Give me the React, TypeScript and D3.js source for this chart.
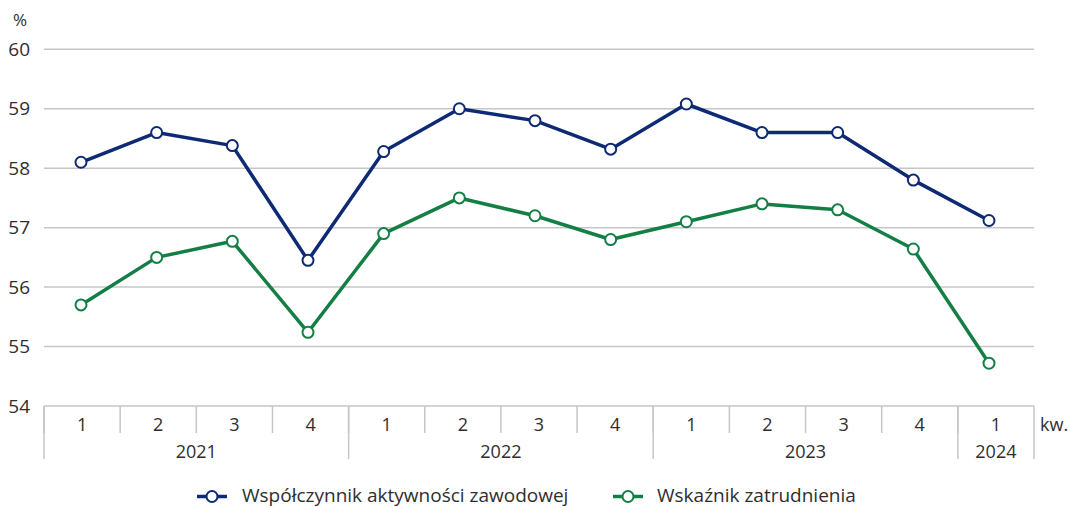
import React from "react";
import * as d3 from "d3";

const quarters = ["1", "2", "3", "4", "1", "2", "3", "4", "1", "2", "3", "4", "1"];
const years = [
  { label: "2021", start: 0, end: 4 },
  { label: "2022", start: 4, end: 8 },
  { label: "2023", start: 8, end: 12 },
  { label: "2024", start: 12, end: 13 },
];
const activity = [58.1, 58.6, 58.38, 56.45, 58.28, 59.0, 58.8, 58.32, 59.08, 58.6, 58.6, 57.8, 57.12];
const employment = [55.7, 56.5, 56.77, 55.24, 56.9, 57.5, 57.2, 56.8, 57.1, 57.4, 57.3, 56.64, 54.72];
const yTicks = [54, 55, 56, 57, 58, 59, 60];
const seriesNames = ["Współczynnik aktywności zawodowej", "Wskaźnik zatrudnienia"];
const colors = ["#0e2a74", "#147f45"];

const W = 1070;
const H = 508;
const left = 44;
const right = 1034;
const FONT = "'Open Sans', 'Noto Sans', sans-serif";
const TXT = "#2e2e2e";

export default function App() {
  const y = d3.scaleLinear().domain([54, 60]).range([406, 49.3]);
  const idx = quarters.map((_, i) => i);
  const xb = d3.scaleBand<number>().domain(idx).range([left, right]).padding(0);
  const xp = d3.scalePoint<number>().domain(idx).range([81, 989]);
  const line = d3
    .line<number>()
    .x((_, i) => xp(i) as number)
    .y((d) => y(d));
  const series = [activity, employment];
  const bw = xb.bandwidth();
  const legY = 495.5;

  return (
    <svg width={W} height={H} style={{ position: "absolute", left: 0, top: 0, background: "#fff" }}>
      <rect width={W} height={H} fill="#fff" />
      {yTicks.map((t) => (
        <g key={t}>
          <line x1={left} x2={right} y1={y(t)} y2={y(t)} stroke="#c6c6c6" strokeWidth={1.5} />
          <text x={30} y={y(t)} dy="0.35em" textAnchor="end" fontFamily={FONT} fontSize={19} fill={TXT}>
            {t}
          </text>
        </g>
      ))}
      <text x={20} y={20} dy="0.35em" textAnchor="middle" fontFamily={FONT} fontSize={17} fill={TXT}>
        %
      </text>
      {idx.map((i) => (
        <line key={"q" + i} x1={xb(i)} x2={xb(i)} y1={406} y2={433} stroke="#c6c6c6" strokeWidth={1.5} />
      ))}
      <line x1={right} x2={right} y1={406} y2={459} stroke="#c6c6c6" strokeWidth={1.5} />
      {years.map((yr) => (
        <line key={"y" + yr.label} x1={xb(yr.start)} x2={xb(yr.start)} y1={406} y2={459} stroke="#c6c6c6" strokeWidth={1.5} />
      ))}
      {quarters.map((q, i) => (
        <text key={"ql" + i} x={(xb(i) as number) + bw / 2} y={425} dy="0.35em" textAnchor="middle" fontFamily={FONT} fontSize={18} fill={TXT}>
          {q}
        </text>
      ))}
      {years.map((yr) => (
        <text
          key={"yl" + yr.label}
          x={((xb(yr.start) as number) + (xb(yr.end - 1) as number) + bw) / 2}
          y={452}
          dy="0.35em"
          textAnchor="middle"
          fontFamily={FONT}
          fontSize={18}
          fill={TXT}
        >
          {yr.label}
        </text>
      ))}
      <text x={1040} y={425} dy="0.35em" fontFamily={FONT} fontSize={18} fill={TXT}>
        kw.
      </text>
      {series.map((s, si) => (
        <g key={"s" + si}>
          <path d={line(s) as string} fill="none" stroke={colors[si]} strokeWidth={3.5} strokeLinejoin="round" />
          {s.map((v, i) => (
            <circle key={i} cx={xp(i)} cy={y(v)} r={5.5} fill="#fff" stroke={colors[si]} strokeWidth={2} />
          ))}
        </g>
      ))}
      {[
        { x: 197, tx: 242 },
        { x: 613, tx: 657 },
      ].map((l, si) => (
        <g key={"lg" + si}>
          <line x1={l.x} x2={l.x + 30} y1={legY + 1} y2={legY + 1} stroke={colors[si]} strokeWidth={3.5} />
          <circle cx={l.x + 15} cy={legY + 1} r={5.5} fill="#fff" stroke={colors[si]} strokeWidth={2} />
          <text x={l.tx} y={legY} dy="0.35em" fontFamily={FONT} fontSize={19} fill={TXT}>
            {seriesNames[si]}
          </text>
        </g>
      ))}
    </svg>
  );
}
